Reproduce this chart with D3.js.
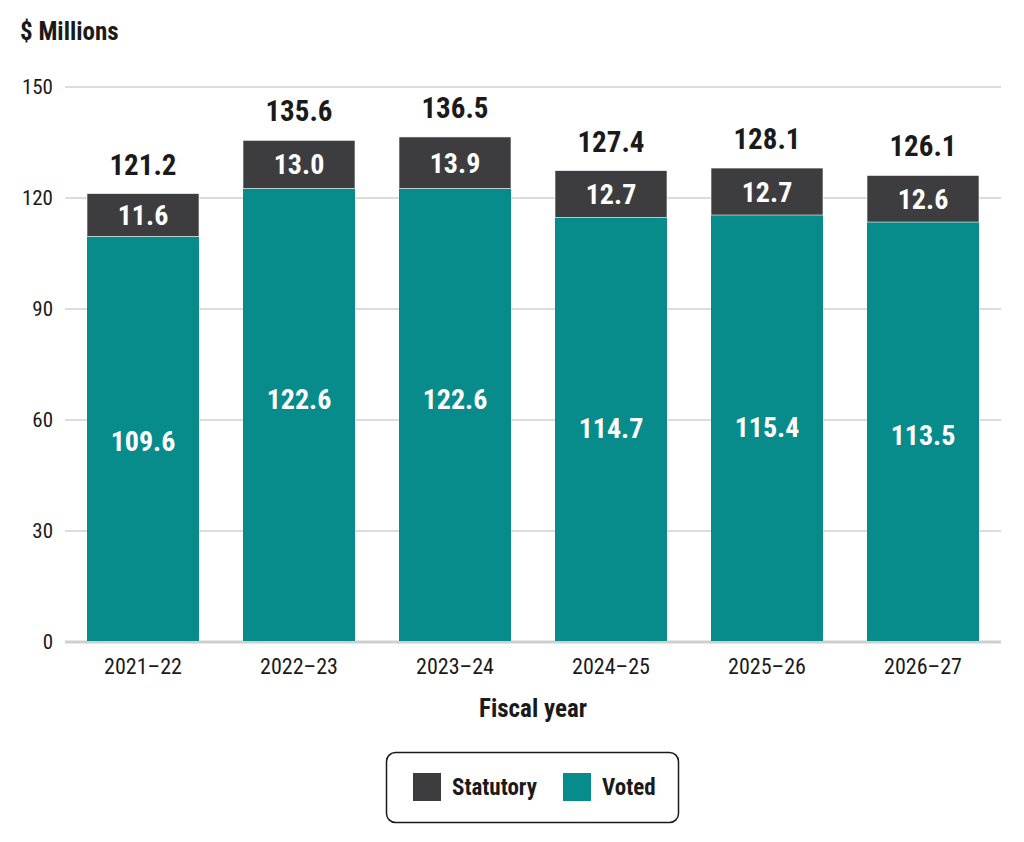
<!DOCTYPE html>
<html><head><meta charset="utf-8">
<script src="https://cdn.jsdelivr.net/npm/d3@7"></script>
<style>
body{margin:0;background:#fff;}
svg{font-family:"Roboto Condensed","Roboto",sans-serif;}
</style></head>
<body><svg id="c" width="1024" height="842"></svg>
<script>
const categories=["2021–22","2022–23","2023–24","2024–25","2025–26","2026–27"];
const voted=[109.6,122.6,122.6,114.7,115.4,113.5];
const statutory=[11.6,13.0,13.9,12.7,12.7,12.6];
const totals=[121.2,135.6,136.5,127.4,128.1,126.1];
const yTicks=[0,30,60,90,120,150];
const seriesNames=["Statutory","Voted"];
const colors={Statutory:"#3d3d40",Voted:"#078b8b"};
// where the voted value labels sit, in data units (as placed in the source)
const votedLabelAt=[54.5,66,66,58,58.3,56.3];

const svg=d3.select("#c");
const x=d3.scaleBand().domain(categories).range([65,1001]).paddingInner(0.282).paddingOuter(0.141);
const y=d3.scaleLinear().domain([0,150]).range([642,87]);

// gridlines
svg.append("g").selectAll("line").data(yTicks).join("line")
 .attr("x1",65).attr("x2",1001).attr("y1",d=>y(d)).attr("y2",d=>y(d))
 .attr("stroke",d=>d===0?"#cfcfcb":"#dcdcd8").attr("stroke-width",d=>d===0?3:2);

// y tick labels
svg.append("g").selectAll("text").data(yTicks).join("text")
 .attr("x",53).attr("y",d=>y(d)+7)
 .attr("text-anchor","end").attr("font-size",21).attr("fill","#1a1a1a").text(d=>d);

const data=categories.map((c,i)=>({c,v:voted[i],s:statutory[i],t:totals[i],la:votedLabelAt[i]}));
const g=svg.append("g");
g.selectAll("rect.v").data(data).join("rect").attr("class","v")
 .attr("x",d=>x(d.c)).attr("width",x.bandwidth())
 .attr("y",d=>y(d.v)).attr("height",d=>y(0)-y(d.v)-1).attr("fill",colors.Voted);
g.selectAll("rect.s").data(data).join("rect").attr("class","s")
 .attr("x",d=>x(d.c)).attr("width",x.bandwidth())
 .attr("y",d=>y(d.v+d.s)).attr("height",d=>y(d.v)-y(d.v+d.s)).attr("fill",colors.Statutory)
 .attr("stroke","#fff").attr("stroke-width",0.6);

const cx=d=>x(d.c)+x.bandwidth()/2;
g.selectAll("text.vl").data(data).join("text").attr("class","vl")
 .attr("x",cx).attr("y",d=>y(d.la)+11)
 .attr("text-anchor","middle").attr("font-size",28).attr("font-weight","bold").attr("fill","#fff")
 .text(d=>d.v.toFixed(1));
g.selectAll("text.sl").data(data).join("text").attr("class","sl")
 .attr("x",cx).attr("y",d=>(y(d.v)+y(d.v+d.s))/2+10)
 .attr("text-anchor","middle").attr("font-size",28).attr("font-weight","bold").attr("fill","#fff")
 .text(d=>d.s.toFixed(1));
g.selectAll("text.tl").data(data).join("text").attr("class","tl")
 .attr("x",cx).attr("y",d=>y(d.t)-19)
 .attr("text-anchor","middle").attr("font-size",29).attr("font-weight","bold").attr("fill","#1a1a1a")
 .text(d=>d.t.toFixed(1));

// x tick labels
svg.append("g").selectAll("text").data(categories).join("text")
 .attr("x",d=>x(d)+x.bandwidth()/2).attr("y",674)
 .attr("text-anchor","middle").attr("font-size",22).attr("fill","#1a1a1a").text(d=>d);

svg.append("text").attr("x",533).attr("y",717).attr("text-anchor","middle")
 .attr("font-size",25).attr("font-weight","bold").attr("fill","#1a1a1a").text("Fiscal year");
svg.append("text").attr("x",20).attr("y",40)
 .attr("font-size",25).attr("font-weight","bold").attr("fill","#1a1a1a").text("$ Millions");

// legend
const lg=svg.append("g");
lg.append("rect").attr("x",386.5).attr("y",752.5).attr("width",292).attr("height",70).attr("rx",9)
 .attr("fill","#fff").attr("stroke","#1a1a1a").attr("stroke-width",1.5);
const lx=[413,563];
seriesNames.forEach((n,i)=>{
 lg.append("rect").attr("x",lx[i]).attr("y",773).attr("width",28).attr("height",28).attr("fill",colors[n]);
 lg.append("text").attr("x",lx[i]+39).attr("y",795)
  .attr("font-size",23).attr("font-weight","bold").attr("fill","#1a1a1a").text(n);
});
</script></body></html>
